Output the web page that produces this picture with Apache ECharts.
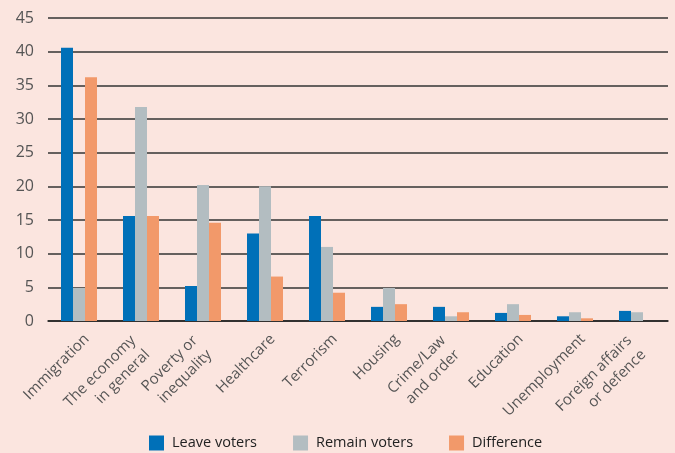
<!DOCTYPE html>
<html>
<head>
<meta charset="utf-8">
<script src="https://cdn.jsdelivr.net/npm/echarts@6/dist/echarts.min.js"></script>
<style>
  html, body { margin: 0; padding: 0; background: #fbe5df; }
  #chart { width: 675px; height: 453px; }
</style>
</head>
<body>
<div id="chart"></div>
<script>
// issues named as most important, % of respondents
const categories = [
  'Immigration', 'The economy\nin general', 'Poverty or\ninequality', 'Healthcare',
  'Terrorism', 'Housing', 'Crime/Law\nand order', 'Education', 'Unemployment',
  'Foreign affairs\nor defence'
]
const leaveVoters = [40.6, 15.6, 5.2, 13.0, 15.6, 2.1, 2.1, 1.2, 0.7, 1.5]
const remainVoters = [4.9, 31.8, 20.2, 20.0, 11.0, 4.9, 0.7, 2.5, 1.3, 1.3]
const difference = [36.2, 15.6, 14.6, 6.6, 4.2, 2.5, 1.3, 0.9, 0.4, 0]

const font = 'Open Sans'
const chart = echarts.init(document.getElementById('chart'))

const bar = (name, data, color) => ({
  name,
  type: 'bar',
  data,
  barWidth: 12,
  barGap: '0%',
  itemStyle: { color },
})

// empty spacer line pushes the text down-right, like the original;
// two-line labels get a little trailing gap so they sit back a bit
const labelFormatter = v => {
  const lines = v.split('\n')
  const tail = lines.length > 1 ? '{p|}' : ''
  return '{g|}\n' + lines.map(l => '{t|' + l + '}' + tail).join('\n')
}

chart.setOption({
  backgroundColor: '#fbe5df',
  animation: false,
  textStyle: { fontFamily: font },
  grid: { left: 48, right: 7, top: 18, bottom: 132 },
  legend: {
    top: 433,
    left: 149,
    padding: 0,
    icon: 'rect',
    itemWidth: 15,
    itemHeight: 15,
    itemGap: 36,
    textStyle: { fontFamily: font, fontSize: 14.5, lineHeight: 20, color: '#222', padding: [0, 0, 0, 3] },
  },
  xAxis: {
    type: 'category',
    data: categories,
    axisLine: { lineStyle: { color: '#222', width: 1.5 } },
    axisTick: { inside: true, length: 5, lineStyle: { color: '#222', width: 1.5 } },
    axisLabel: {
      rotate: 45,
      interval: 0,
      margin: 8,
      formatter: labelFormatter,
      rich: {
        g: { lineHeight: 22, height: 22 },
        t: { fontFamily: font, fontSize: 15, lineHeight: 20, color: '#555' },
        p: { width: 12 },
      },
    },
  },
  yAxis: {
    type: 'value',
    min: 0,
    max: 45,
    interval: 5,
    axisLine: { show: false },
    axisTick: { show: false },
    splitLine: { lineStyle: { color: '#333', width: 1.5 } },
    axisLabel: { fontFamily: font, fontSize: 16, color: '#555', margin: 14 },
  },
  series: [
    bar('Leave voters', leaveVoters, '#0070b8'),
    bar('Remain voters', remainVoters, '#b3bdc1'),
    bar('Difference', difference, '#f2996a'),
  ],
})
</script>
</body>
</html>
